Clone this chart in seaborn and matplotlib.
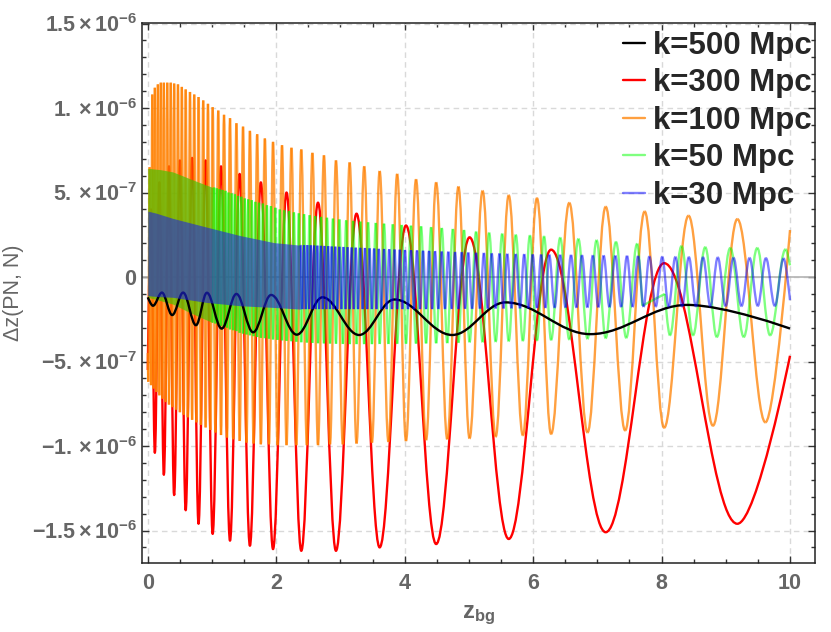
import matplotlib
matplotlib.use("Agg")
import matplotlib.pyplot as plt
import seaborn as sns
from matplotlib.path import Path
from matplotlib.patches import PathPatch
from matplotlib.collections import PathCollection
from matplotlib.lines import Line2D
from matplotlib.ticker import MultipleLocator

# values, in units of 1e-6 ; z positions of the turning points
UNIT = 1e-6

red_z = [0.00, 0.05, 0.11, 0.18, 0.25, 0.33, 0.41, 0.50, 0.59, 0.69, 0.79, 0.90, 1.01, 1.14,
         1.28, 1.43, 1.59, 1.76, 1.95, 2.16, 2.39, 2.65, 2.93, 3.25, 3.61, 4.02, 4.49, 5.01,
         5.62, 6.28, 7.13, 8.04, 9.18, 10.0]
red_v = [-0.55, 0.40, -1.04, 0.56, -1.17, 0.655, -1.29, 0.69, -1.38, 0.705, -1.46, 0.69, -1.52, 0.655,
         -1.56, 0.61, -1.59, 0.56, -1.61, 0.50, -1.62, 0.44, -1.62, 0.375, -1.60, 0.305, -1.58, 0.235,
         -1.55, 0.162, -1.51, 0.082, -1.46, -0.466]

black_z = [0.00, 0.08, 0.22, 0.38, 0.55, 0.75, 0.92, 1.15, 1.38, 1.64, 1.92, 2.32, 2.72, 3.29,
           3.84, 4.74, 5.57, 6.89, 8.40, 10.0]
black_v = [-0.12, -0.17, -0.092, -0.225, -0.092, -0.285, -0.093, -0.305, -0.10, -0.327, -0.106,
           -0.341, -0.12, -0.343, -0.133, -0.343, -0.15, -0.338, -0.165, -0.305]

orange_z = [0.0, 0.007, 0.028, 0.05, 0.07, 0.09, 0.11, 0.133, 0.157, 0.18, 0.203, 0.227, 0.25,
            0.277, 0.303, 0.33, 0.357, 0.383, 0.41, 0.44, 0.47, 0.50, 0.53, 0.56, 0.59, 0.623,
            0.657, 0.69, 0.723, 0.757, 0.79, 0.827, 0.863, 0.90, 0.937, 0.973, 1.01, 1.053, 1.097,
            1.14, 1.187, 1.233, 1.28, 1.33, 1.38, 1.43, 1.483, 1.537, 1.59, 1.647, 1.703, 1.76,
            1.823, 1.887, 1.95, 2.02, 2.09, 2.16, 2.237, 2.313, 2.39, 2.477, 2.563, 2.65, 2.743,
            2.837, 2.93, 3.037, 3.143, 3.25, 3.37, 3.49, 3.61, 3.747, 3.883, 4.02, 4.177, 4.333,
            4.49, 4.663, 4.837, 5.01, 5.213, 5.417, 5.62, 5.84, 6.06, 6.28, 6.563, 6.847, 7.13,
            7.433, 7.737, 8.04, 8.42, 8.80, 9.18, 9.617, 10.0]
orange_v = [-0.45, -0.62, 0.65, -0.64, 1.08, -0.66, 1.12, -0.68, 1.14, -0.70, 1.15, -0.72, 1.15,
            -0.74, 1.15, -0.755, 1.15, -0.77, 1.145, -0.785, 1.14, -0.80, 1.125, -0.815, 1.11, -0.83,
            1.095, -0.845, 1.08, -0.86, 1.065, -0.875, 1.045, -0.89, 1.025, -0.905, 1.005, -0.92, 0.985,
            -0.935, 0.96, -0.95, 0.94, -0.96, 0.91, -0.97, 0.89, -0.98, 0.865, -0.985, 0.845, -0.99,
            0.82, -0.99, 0.80, -0.995, 0.78, -0.995, 0.765, -0.995, 0.755, -0.995, 0.735, -0.995, 0.72,
            -0.99, 0.69, -0.99, 0.678, -0.985, 0.655, -0.98, 0.627, -0.975, 0.61, -0.97, 0.578, -0.965,
            0.56, -0.96, 0.535, -0.955, 0.51, -0.945, 0.484, -0.937, 0.467, -0.929, 0.439, -0.92, 0.416,
            -0.908, 0.388, -0.892, 0.363, -0.88, 0.343, -0.86, 0.278]

# k=50: solid band where the oscillation is too dense to resolve, then turning points
green_band_z = [0.0, 0.2, 0.39, 0.6, 0.8, 1.01]
green_band_hi = [0.643, 0.635, 0.622, 0.59, 0.56, 0.53]
green_band_lo = [-0.12, -0.14, -0.16, -0.20, -0.235, -0.27]
green_z = [1.01, 1.032, 1.053, 1.075, 1.097, 1.118,
           1.14, 1.163, 1.187, 1.21, 1.233, 1.257,
           1.28, 1.305, 1.33, 1.355, 1.38, 1.405,
           1.43, 1.457, 1.483, 1.51, 1.537, 1.563,
           1.59, 1.618, 1.647, 1.675, 1.703, 1.732,
           1.76, 1.792, 1.823, 1.855, 1.887, 1.918,
           1.95, 1.985, 2.02, 2.055, 2.09, 2.125,
           2.16, 2.198, 2.237, 2.275, 2.313, 2.352,
           2.39, 2.433, 2.477, 2.52, 2.563, 2.607,
           2.65, 2.697, 2.743, 2.79, 2.837, 2.883,
           2.93, 2.983, 3.037, 3.09, 3.143, 3.197,
           3.25, 3.31, 3.37, 3.43, 3.49, 3.55,
           3.61, 3.678, 3.747, 3.815, 3.883, 3.952,
           4.02, 4.098, 4.177, 4.255, 4.333, 4.412,
           4.49, 4.577, 4.663, 4.75, 4.837, 4.923,
           5.01, 5.112, 5.213, 5.315, 5.417, 5.518,
           5.62, 5.73, 5.84, 5.95, 6.06, 6.17,
           6.28, 6.422, 6.563, 6.705, 6.847, 6.988,
           7.13, 7.29, 7.45, 7.62, 7.70]
green_v = [-0.27, 0.53, -0.275, 0.525, -0.28, 0.52,
           -0.29, 0.515, -0.295, 0.51, -0.30, 0.50,
           -0.31, 0.495, -0.315, 0.49, -0.32, 0.48,
           -0.33, 0.475, -0.335, 0.465, -0.34, 0.46,
           -0.345, 0.455, -0.35, 0.445, -0.355, 0.44,
           -0.36, 0.435, -0.362, 0.425, -0.365, 0.42,
           -0.37, 0.41, -0.372, 0.40, -0.375, 0.395,
           -0.378, 0.39, -0.38, 0.383, -0.383, 0.377,
           -0.386, 0.372, -0.388, 0.366, -0.39, 0.361,
           -0.392, 0.356, -0.393, 0.351, -0.394, 0.346,
           -0.395, 0.341, -0.396, 0.336, -0.397, 0.332,
           -0.397, 0.328, -0.397, 0.324, -0.397, 0.32,
           -0.396, 0.316, -0.396, 0.312, -0.395, 0.308,
           -0.395, 0.304, -0.394, 0.30, -0.393, 0.295,
           -0.392, 0.29, -0.391, 0.284, -0.389, 0.278,
           -0.386, 0.268, -0.385, 0.262, -0.383, 0.256,
           -0.38, 0.25, -0.378, 0.246, -0.376, 0.241,
           -0.373, 0.233, -0.37, 0.226, -0.366, 0.218,
           -0.362, 0.208, -0.36, 0.197, -0.17]
# after the straight jump near z=8 in the original curve
green2_z = [8.05, 8.13, 8.31, 8.49, 8.68, 8.86, 9.07, 9.28, 9.49, 9.69, 9.93, 10.0]
green2_v = [-0.10, -0.345, 0.183, -0.345, 0.177, -0.355, 0.172, -0.355, 0.172, -0.345, 0.164, 0.069]

# k=30
blue_band_z = [0.0, 0.13, 0.39, 0.91, 1.44, 1.96, 2.381]
blue_band_hi = [0.39, 0.378, 0.347, 0.296, 0.245, 0.204, 0.188]
blue_band_lo = [-0.11, -0.115, -0.12, -0.15, -0.17, -0.18, -0.19]
blue_z = [2.381, 2.407, 2.433, 2.459, 2.485, 2.511, 2.537, 2.563, 2.589, 2.615,
          2.640, 2.668, 2.696, 2.724, 2.752, 2.780, 2.808, 2.836, 2.864, 2.892,
          2.919, 2.951, 2.983, 3.015, 3.047, 3.079, 3.111, 3.143, 3.175, 3.207,
          3.237, 3.273, 3.309, 3.345, 3.381, 3.417, 3.453, 3.489, 3.525, 3.561,
          3.596, 3.637, 3.678, 3.719, 3.760, 3.801, 3.842, 3.883, 3.924, 3.965,
          4.004, 4.051, 4.098, 4.145, 4.192, 4.239, 4.286, 4.333, 4.380, 4.427,
          4.472, 4.524, 4.576, 4.628, 4.680, 4.732, 4.784, 4.836, 4.888, 4.940,
          4.989, 5.050, 5.111, 5.172, 5.233, 5.294, 5.355, 5.416, 5.477, 5.538,
          5.597, 5.663, 5.729, 5.795, 5.861, 5.927, 5.993, 6.059, 6.125, 6.191,
          6.250, 6.335, 6.420, 6.505, 6.590, 6.675, 6.760, 6.845, 6.930, 7.015,
          7.098, 7.189, 7.280, 7.371, 7.462, 7.548, 7.634, 7.720, 7.810, 7.910,
          8.010, 8.110, 8.215, 8.320, 8.425, 8.535, 8.645, 8.760, 8.875, 8.998,
          9.120, 9.245, 9.370, 9.498, 9.625, 9.763, 9.900, 10.0]
blue_v = [0.190, -0.19, 0.189, -0.19, 0.189, -0.19, 0.188, -0.19, 0.187, -0.19,
          0.186, -0.19, 0.185, -0.19, 0.184, -0.19, 0.183, -0.19, 0.181, -0.19,
          0.180, -0.19, 0.179, -0.19, 0.178, -0.19, 0.177, -0.19, 0.175, -0.19,
          0.174, -0.19, 0.173, -0.19, 0.172, -0.19, 0.170, -0.19, 0.169, -0.19,
          0.167, -0.19, 0.166, -0.19, 0.165, -0.19, 0.163, -0.19, 0.162, -0.19,
          0.160, -0.19, 0.159, -0.19, 0.158, -0.19, 0.156, -0.19, 0.155, -0.19,
          0.153, -0.189, 0.151, -0.189, 0.150, -0.189, 0.148, -0.189, 0.147, -0.188,
          0.145, -0.188, 0.143, -0.187, 0.142, -0.187, 0.140, -0.186, 0.139, -0.186,
          0.137, -0.185, 0.136, -0.185, 0.135, -0.184, 0.134, -0.183, 0.133, -0.183,
          0.132, -0.182, 0.131, -0.181, 0.130, -0.181, 0.129, -0.180, 0.128, -0.179,
          0.127, -0.178, 0.126, -0.177, 0.125, -0.177, 0.124, -0.176, 0.122, -0.175,
          0.120, -0.175, 0.119, -0.174, 0.118, -0.174, 0.117, -0.173, 0.116, -0.172,
          0.114, -0.172, 0.113, -0.171, 0.112, -0.171, 0.110, -0.137]

legend_labels = ["k=500 Mpc", "k=300 Mpc", "k=100 Mpc", "k=50 Mpc", "k=30 Mpc"]
x_ticks = [0, 2, 4, 6, 8, 10]
y_ticks = [-1.5e-6, -1.0e-6, -5e-7, 0.0, 5e-7, 1.0e-6, 1.5e-6]
y_tick_labels = [r"$\mathbf{-1.5\times10^{-6}}$", r"$\mathbf{-1.\times10^{-6}}$",
                 r"$\mathbf{-5.\times10^{-7}}$", r"$\mathbf{0}$", r"$\mathbf{5.\times10^{-7}}$",
                 r"$\mathbf{1.\times10^{-6}}$", r"$\mathbf{1.5\times10^{-6}}$"]

BLACK = (0, 0, 0, 1)
RED = (1, 0, 0, 1)
ORANGE = (1, 0.5, 0, 0.75)
GREEN = (0, 1, 0, 0.5)
BLUE = (0, 0, 1, 0.5)
GREEN_BAND = (0.29, 0.76, 0.0, 0.7)
BLUE_BAND = (0.12, 0.15, 0.88, 0.6)
LW = 1.7
GRAY = "#666666"

sns.set_theme(style="ticks")
plt.rcParams["font.family"] = ["Liberation Sans", "DejaVu Sans"]
plt.rcParams["mathtext.fontset"] = "custom"
plt.rcParams["mathtext.rm"] = "Liberation Sans"
plt.rcParams["mathtext.bf"] = "Liberation Sans:bold"
plt.rcParams["mathtext.it"] = "Liberation Sans:italic"

K = 0.364  # horizontal reach of the bezier handles between two turning points


def segments(zs, vs, free_start=True, free_end=True):
    pts = [(z, v * UNIT) for z, v in zip(zs, vs, strict=True)]
    out = []
    n = len(pts)
    for i in range(n - 1):
        (x0, y0), (x1, y1) = pts[i], pts[i + 1]
        dx = x1 - x0
        c0 = (x0, y0) if (i == 0 and free_start) else (x0 + K * dx, y0)
        c1 = (x1, y1) if (i == n - 2 and free_end) else (x1 - K * dx, y1)
        out.append([(x0, y0), c0, c1, (x1, y1)])
    return out


def one_path(segs):
    verts = [segs[0][0]]
    codes = [Path.MOVETO]
    for s in segs:
        verts += s[1:]
        codes += [Path.CURVE4] * 3
    return Path(verts, codes)


def add_solid(ax, segs, color, z):
    ax.add_patch(PathPatch(one_path(segs), facecolor="none", edgecolor=color, lw=LW,
                           zorder=z, capstyle="butt", joinstyle="round"))


def add_transparent(ax, segs, color, z):
    # each half wave is its own path so overlapping strokes build up like the original
    paths = [Path(s, [Path.MOVETO] + [Path.CURVE4] * 3) for s in segs]
    coll = PathCollection(paths, facecolors="none", edgecolors=[color], linewidths=LW,
                          transform=ax.transData, zorder=z, capstyle="butt")
    ax.add_collection(coll, autolim=False)


fig = plt.figure(figsize=(8.31, 6.32), dpi=100)
ax = fig.add_axes([0.1709, 0.1092, 0.8099, 0.8544])

ax.grid(True, which="major", color="#d9d9d9", lw=1.0, ls=(0, (4, 3)))
ax.set_axisbelow(True)
ax.axhline(0, color="#b3b3b3", lw=1.2, zorder=1)

add_solid(ax, segments(red_z, red_v), RED, 2)
add_transparent(ax, segments(orange_z, orange_v), ORANGE, 3)

ax.fill_between(green_band_z, [v * UNIT for v in green_band_hi], [v * UNIT for v in green_band_lo],
                color=GREEN_BAND, lw=0, zorder=4)
add_transparent(ax, segments(green_z, green_v, free_start=False), GREEN, 4)
add_transparent(ax, [[(green_z[-1], green_v[-1] * UNIT), (green_z[-1], green_v[-1] * UNIT),
                      (green2_z[0], green2_v[0] * UNIT), (green2_z[0], green2_v[0] * UNIT)]], GREEN, 4)
add_transparent(ax, segments(green2_z, green2_v), GREEN, 4)

# k=500 sits under the translucent k=30 layer, as in the original
add_solid(ax, segments(black_z, black_v), BLACK, 4.5)

ax.fill_between(blue_band_z, [v * UNIT for v in blue_band_hi], [v * UNIT for v in blue_band_lo],
                color=BLUE_BAND, lw=0, zorder=5)
add_transparent(ax, segments(blue_z, blue_v, free_start=False), BLUE, 5)

ax.set_xlim(-0.09, 10.39)
ax.set_ylim(-1.692e-6, 1.503e-6)
ax.set_xticks(x_ticks, [str(t) for t in x_ticks])
ax.set_yticks(y_ticks, y_tick_labels)
ax.xaxis.set_minor_locator(MultipleLocator(0.5))
ax.yaxis.set_minor_locator(MultipleLocator(1e-7))
ax.tick_params(which="both", direction="in", top=True, right=True, color="#333333", width=1.0)
ax.tick_params(which="major", length=5)
ax.tick_params(which="minor", length=3)
ax.tick_params(axis="x", which="major", pad=7, labelsize=15.5, labelcolor=GRAY)
ax.tick_params(axis="y", which="major", pad=3.5, labelsize=15.5, labelcolor=GRAY)
for lbl in ax.get_xticklabels():
    lbl.set_fontweight("bold")
for sp in ax.spines.values():
    sp.set_color("#222222")
    sp.set_linewidth(1.1)

ax.set_ylabel("\u0394z(PN, N)", fontsize=15.5, color=GRAY)
ax.yaxis.set_label_coords(-0.176, 0.5)
ax.set_xlabel(r"$\mathbf{z}_{\mathbf{bg}}$", fontsize=17, color=GRAY)
ax.xaxis.set_label_coords(0.5, -0.096)
ax.xaxis.label.set_va("center")

handles = [Line2D([], [], color=c, lw=LW) for c in (BLACK, RED, ORANGE, GREEN, BLUE)]
ax.legend(handles, legend_labels, loc="upper right", bbox_to_anchor=(0.995, 0.986), frameon=False,
          prop={"weight": "bold", "size": 22.5}, handlelength=0.72, handletextpad=0.25,
          labelspacing=0.24, borderaxespad=0.0, borderpad=0.0)

fig.savefig("out.png", dpi=100)
